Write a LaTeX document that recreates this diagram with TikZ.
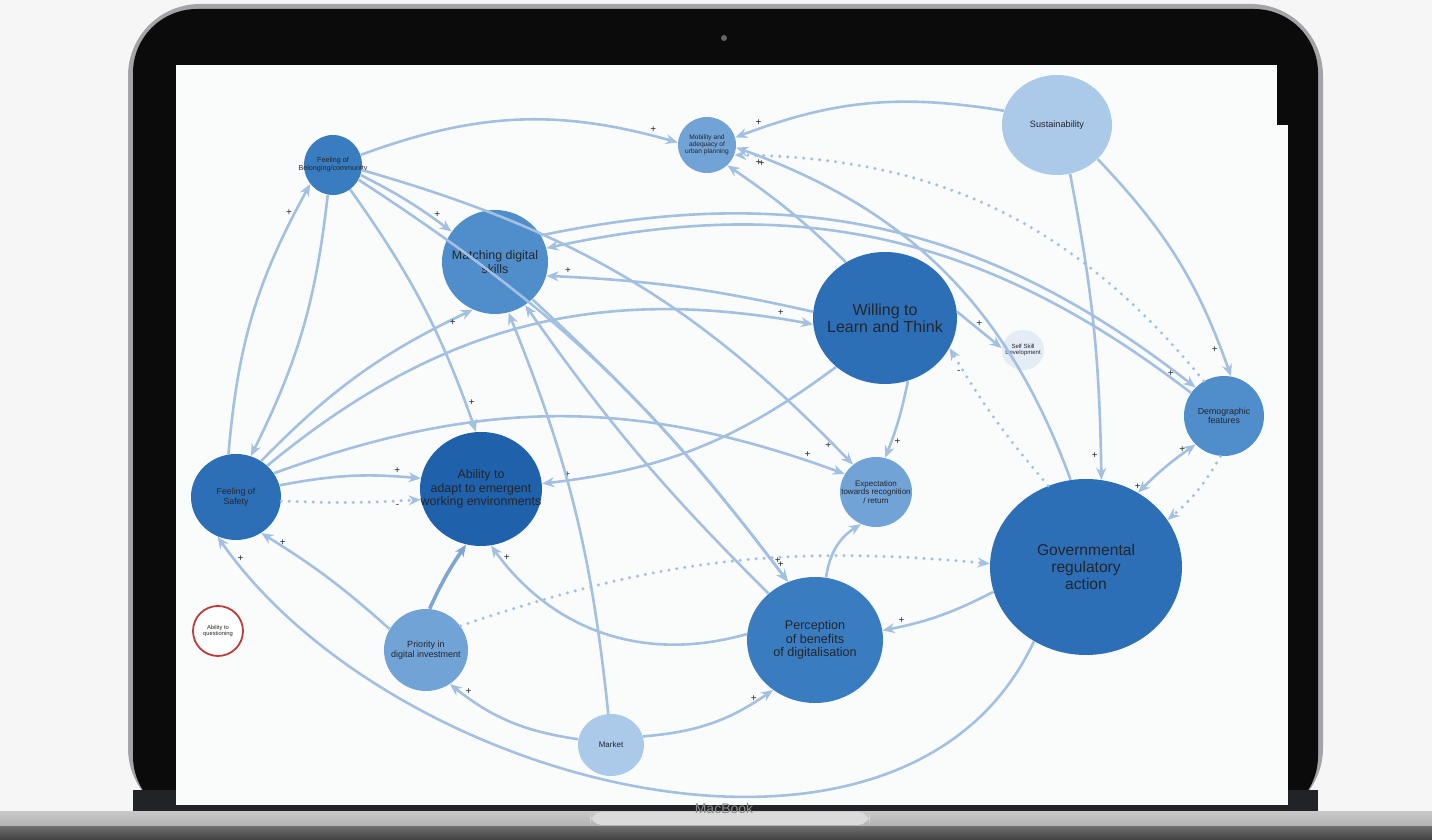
\documentclass[tikz,border=0pt]{standalone}
\usepackage{fontspec}
\setmainfont{Liberation Sans}
\usepackage{xcolor}
\definecolor{Desk}{HTML}{F6F6F6}
\definecolor{Silver}{HTML}{A4A4A8}
\definecolor{Bezel}{HTML}{0B0B0C}
\definecolor{Strip}{HTML}{222327}
\definecolor{Screen}{HTML}{FAFCFC}
\definecolor{Link}{HTML}{A3C0E0}
\definecolor{LinkDk}{HTML}{7FA6D0}
\definecolor{Ink}{HTML}{23262C}
\definecolor{BlueA}{HTML}{1F61AB}
\definecolor{BlueB}{HTML}{2C6FB7}
\definecolor{BlueC}{HTML}{3A7CC0}
\definecolor{BlueD}{HTML}{508DCB}
\definecolor{BlueE}{HTML}{71A3D6}
\definecolor{BlueF}{HTML}{ABC9E9}
\definecolor{BlueG}{HTML}{E4ECF6}
\definecolor{Alert}{HTML}{C0393B}
\usetikzlibrary{arrows.meta,shapes.geometric}

\begin{document}
\begin{tikzpicture}[
    x=0.5pt,y=0.5pt,
    >={Stealth[length=6pt,width=5pt]},
    bub/.style={ellipse,inner sep=0pt},                                  % factor bubble
    lbl/.style={align=center,text=Ink,inner sep=0pt},                    % bubble text
    lnk/.style={->,draw=Link,line width=1.3pt},                          % causal link
    dlnk/.style={lnk,dash pattern=on 0pt off 4pt,line cap=round,line width=1.7pt}, % weak link
    pm/.style={font=\fontsize{5}{5}\selectfont,text=Ink,inner sep=1pt},  % polarity
  ]
  \useasboundingbox (0,0) rectangle (1432,840);

  % ---------- laptop ----------
  \fill[Desk] (0,0) rectangle (1432,840);
  \fill[Silver,rounded corners=36] (128,20) rectangle (1323,836);
  \fill[Bezel,rounded corners=32] (133,20) rectangle (1318,831);
  \fill[Strip] (133,22) rectangle (1318,50);
  \fill[Screen] (176,35) rectangle (1288,775);
  \fill[Bezel] (1277,715) rectangle (1289,776);
  \fill[black!60] (724,802) circle (3);
  \fill[top color=black!55,bottom color=black!75] (0,0) rectangle (1432,15);
  \fill[top color=black!22,bottom color=black!30] (0,14) rectangle (1432,28);
  \fill[black!14,rounded corners=6] (590,15) rectangle (870,28);
  \node[text=black!45,font=\fontsize{7}{7}\selectfont] (brand) at (724,31) {MacBook};

  % ---------- factors ----------
  \node[bub,fill=BlueC,minimum width=29pt,minimum height=30pt,
    label={[lbl,font=\fontsize{3.6}{3.9}\selectfont]center:Feeling of\\Belonging/community}]
    (belong) at (333,675) {};
  \node[bub,fill=BlueE,minimum width=29pt,minimum height=28pt,
    label={[lbl,font=\fontsize{3.3}{3.6}\selectfont]center:Mobility and\\adequacy of\\urban planning}]
    (mobility) at (707,695) {};
  \node[bub,fill=BlueF,minimum width=55pt,minimum height=50pt,
    label={[lbl,font=\fontsize{4.6}{5}\selectfont]center:Sustainability}]
    (sustain) at (1057,715) {};
  \node[bub,fill=BlueD,minimum width=53pt,minimum height=52pt,
    label={[lbl,font=\fontsize{6.2}{7}\selectfont]center:Matching digital\\skills}]
    (matching) at (495,578) {};
  \node[bub,fill=BlueB,minimum width=72pt,minimum height=66pt,
    label={[lbl,font=\fontsize{8}{8.6}\selectfont]center:Willing to\\Learn and Think}]
    (willing) at (885,522) {};
  \node[bub,fill=BlueG,minimum width=21pt,minimum height=20pt,
    label={[lbl,font=\fontsize{3}{3.3}\selectfont]center:Self Skill\\Development}]
    (selfdev) at (1023,490) {};
  \node[bub,fill=BlueD,minimum width=40pt,minimum height=40pt,
    label={[lbl,font=\fontsize{4.4}{4.8}\selectfont]center:Demographic\\features}]
    (demo) at (1224,424) {};
  \node[bub,fill=BlueB,minimum width=45pt,minimum height=43pt,
    label={[lbl,font=\fontsize{4.4}{4.8}\selectfont]center:Feeling of\\Safety}]
    (safety) at (236,343) {};
  \node[bub,fill=BlueA,minimum width=61pt,minimum height=57pt,
    label={[lbl,font=\fontsize{6.2}{6.6}\selectfont]center:Ability to\\adapt to emergent\\working environments}]
    (adapt) at (481,351) {};
  \node[bub,fill=BlueE,minimum width=36pt,minimum height=35pt,
    label={[lbl,font=\fontsize{4}{4.4}\selectfont]center:Expectation\\towards recognition\\/ return}]
    (expect) at (876,348) {};
  \node[bub,fill=BlueB,minimum width=96pt,minimum height=88pt,
    label={[lbl,font=\fontsize{7.8}{8.6}\selectfont]center:Governmental\\regulatory\\action}]
    (gov) at (1086,273) {};
  \node[bub,fill=BlueE,minimum width=42pt,minimum height=41pt,
    label={[lbl,font=\fontsize{4.5}{4.9}\selectfont]center:Priority in\\digital investment}]
    (priority) at (426,190) {};
  \node[bub,fill=BlueC,minimum width=68pt,minimum height=63pt,
    label={[lbl,font=\fontsize{6.3}{6.8}\selectfont]center:Perception\\of benefits\\of digitalisation}]
    (percept) at (815,200) {};
  \node[bub,fill=BlueF,minimum width=33pt,minimum height=31pt,
    label={[lbl,font=\fontsize{4}{4.4}\selectfont]center:Market}]
    (market) at (611,95) {};
  \node[bub,fill=white,draw=Alert,line width=0.9pt,minimum width=25pt,minimum height=25pt,
    label={[lbl,font=\fontsize{2.9}{3.2}\selectfont]center:Ability to\\questioning}]
    (question) at (218,209) {};

  % ---------- links out of belonging ----------
  \draw[lnk] (belong.20) to[bend left=18] node[pm,pos=.93,above]{+} (mobility.175);
  \draw[lnk] (belong.-20) to[bend left=5] node[pm,pos=.85,above]{+} (matching.145);
  \draw[lnk] (belong.-55) to[bend left=8] node[pm,pos=.9,right]{+} (adapt.95);
  \draw[lnk] (belong.-10) to[bend left=15] node[pm,pos=.96,left]{+} (expect.130);
  \draw[lnk] (belong.-30) to[bend left=10] node[pm,pos=.96,right]{+} (percept.115);
  \draw[lnk] (belong.-100) to[bend left=10] (safety.70);

  % ---------- links out of safety ----------
  \draw[lnk] (safety.100) to[bend left=12] node[pm,pos=.9,left]{+} (belong.-140);
  \draw[lnk] (safety.45) to[bend left=25] node[pm,pos=.95,above]{+} (willing.185);
  \draw[lnk] (safety.55) to[bend left=10] node[pm,pos=.9,right]{+} (matching.-115);
  \draw[lnk] (safety.32) to[bend left=20] node[pm,pos=.94,above]{+} (expect.150);
  \draw[lnk] (safety.15) to[bend left=8] node[pm,pos=.85,above]{+} (adapt.170);
  \draw[dlnk] (safety.-5) to[bend right=3] node[pm,pos=.85,below]{-} (adapt.-170);

  % ---------- links out of sustainability ----------
  \draw[lnk] (sustain.165) to[bend right=15] node[pm,pos=.92,above]{+} (mobility.15);
  \draw[lnk] (sustain.-40) to[bend left=12] node[pm,pos=.9,left]{+} (demo.80);
  \draw[lnk] (sustain.-75) to[bend left=5] node[pm,pos=.93,left]{+} (gov.80);

  % ---------- links out of willing ----------
  \draw[lnk] (willing.125) to[bend right=5] (mobility.-45);
  \draw[lnk] (willing.175) to[bend right=5] node[pm,pos=.93,above]{+} (matching.-15);
  \draw[lnk] (willing.-135) to[bend left=15] node[pm,pos=.93,above]{+} (adapt.5);
  \draw[lnk] (willing.5) -- node[pm,above]{+} (selfdev.175);
  \draw[lnk] (willing.-70) to[bend left=5] node[pm,pos=.8,right]{+} (expect.75);

  % ---------- links out of demographic and matching ----------
  \draw[dlnk] (demo.120) to[bend right=25] node[pm,pos=.96,below]{+} (mobility.-20);
  \draw[lnk] (demo.145) to[bend right=25] (matching.15);
  \draw[lnk] (matching.30) to[bend left=25] node[pm,pos=.97,left]{+} (demo.135);
  \draw[<->,draw=Link,line width=1.3pt] (demo.-135) to[bend right=5]
    node[pm,pos=.1,left]{+} node[pm,pos=.9,left]{+} (gov.55);
  \draw[dlnk] (demo.-95) to[bend left=10] (gov.30);
  \draw[lnk] (matching.-45) to[bend left=5] node[pm,pos=.95,right]{+} (percept.115);

  % ---------- links out of government ----------
  \draw[lnk] (gov.100) to[bend right=25] node[pm,pos=.95,below]{+} (mobility.-5);
  \draw[dlnk] (gov.115) to[bend left=5] node[pm,pos=.85,left]{-} (willing.-25);
  \draw[lnk] (gov.-165) to[bend left=8] node[pm,pos=.85,above]{+} (percept.8);
  \draw[lnk] (gov.-125) to[out=-115,in=-55,looseness=0.95] node[pm,pos=.97,right]{+} (safety.-115);

  % ---------- links out of priority, market, perception ----------
  \draw[dlnk] (priority.35) to[bend left=12] (gov.178);
  \draw[->,draw=LinkDk,line width=1.8pt] (priority.85) to[bend left=5] (adapt.-105);
  \draw[lnk] (priority.150) to[bend right=5] node[pm,pos=.9,right]{+} (safety.-55);
  \draw[lnk] (market.170) to[bend left=15] node[pm,pos=.85,above]{+} (priority.-55);
  \draw[lnk] (market.15) to[bend right=15] node[pm,pos=.9,left]{+} (percept.-130);
  \draw[lnk] (market.95) to[bend right=8] (matching.-75);
  \draw[lnk] (percept.175) to[bend left=35] node[pm,pos=.95,right]{+} (adapt.-80);
  \draw[lnk] (percept.135) to[bend left=5] (matching.-55);
  \draw[lnk] (percept.80) to[bend left=25] (expect.-115);
\end{tikzpicture}
\end{document}
